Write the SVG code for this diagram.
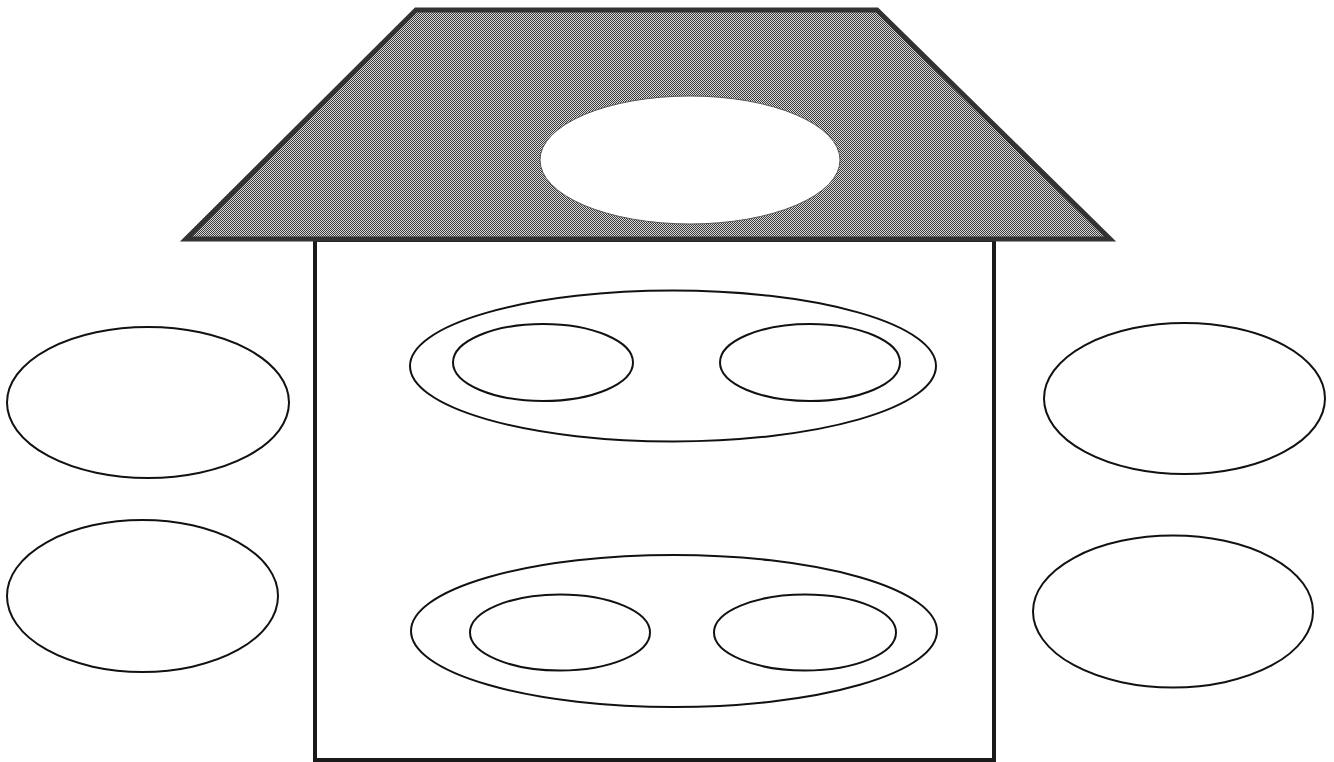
<svg xmlns="http://www.w3.org/2000/svg" width="1334" height="762" viewBox="0 0 1334 762">
  <defs>
    <pattern id="checker" width="2" height="2" patternUnits="userSpaceOnUse">
      <rect width="2" height="2" fill="#d8d8d8"/>
      <rect x="0" y="0" width="1" height="1" fill="#3a3a3a"/>
      <rect x="1" y="1" width="1" height="1" fill="#3a3a3a"/>
    </pattern>
  </defs>
  <style>
    .ell { fill: #ffffff; stroke: #111111; stroke-width: 2; }
    .roof { fill: url(#checker); stroke: #333333; stroke-width: 5; stroke-linejoin: miter; }
    .house { fill: #ffffff; stroke: #1a1a1a; stroke-width: 4; }
  </style>
  <rect width="1334" height="762" fill="#ffffff"/>
  <g id="house">
    <rect class="house" x="315" y="240" width="679" height="520"/>
  </g>
  <g id="roof">
    <polygon class="roof" points="416,10 877,10 1110,239 186,239"/>
    <ellipse cx="690" cy="160" rx="150" ry="64" fill="#ffffff" stroke="#555555" stroke-width="1"/>
  </g>
  <g id="left-top"><ellipse class="ell" cx="148" cy="402.5" rx="141" ry="75.5"/></g>
  <g id="left-bottom"><ellipse class="ell" cx="142.5" cy="596" rx="135.5" ry="76"/></g>
  <g id="right-top"><ellipse class="ell" cx="1184.5" cy="398.5" rx="140.5" ry="75.5"/></g>
  <g id="right-bottom"><ellipse class="ell" cx="1173" cy="611.5" rx="140" ry="76"/></g>
  <g id="upper-group">
    <ellipse class="ell" cx="673" cy="366" rx="263" ry="75.5"/>
    <ellipse class="ell" cx="543" cy="362.5" rx="90" ry="38.5"/>
    <ellipse class="ell" cx="810" cy="362.5" rx="90" ry="38.5"/>
  </g>
  <g id="lower-group">
    <ellipse class="ell" cx="674" cy="631" rx="263" ry="76"/>
    <ellipse class="ell" cx="560" cy="632.5" rx="90" ry="38"/>
    <ellipse class="ell" cx="805" cy="632.5" rx="91" ry="38"/>
  </g>
  <g id="connectors"/>
</svg>
